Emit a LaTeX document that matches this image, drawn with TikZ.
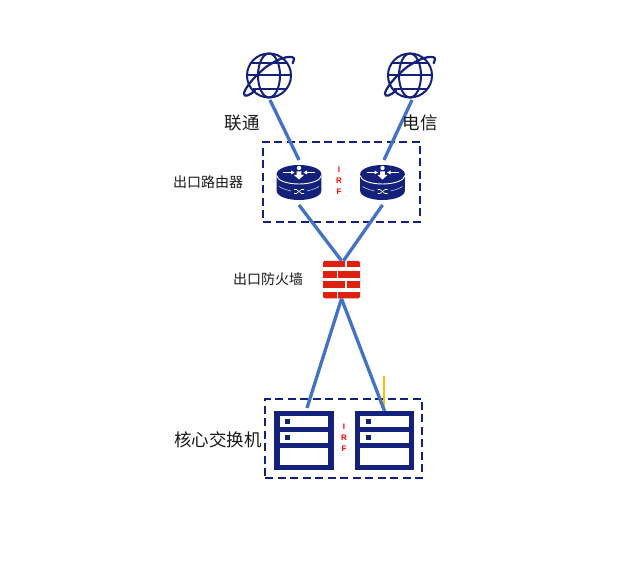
\documentclass[tikz,border=0pt]{standalone}
\usepackage{fontspec}
\setmainfont{Liberation Sans}
\newfontfamily\cjk{Noto Sans CJK SC}
\definecolor{navy}{HTML}{14217A}
\definecolor{linkblue}{HTML}{4472C4}
\definecolor{fwred}{HTML}{DD2010}
\definecolor{linkyellow}{HTML}{F5C000}
\newcommand{\globeicon}[1]{%
\begin{scope}[shift={#1},navy,line width=2pt]
\draw (0,0) circle (22);
\draw (0,0) ellipse (11 and 22);
\draw (-18,-12.5) -- (18,-12.5);
\draw (-22,0) -- (22,0);
\draw (-16.5,14) -- (16.5,14);
\draw[line width=2.2pt,line cap=round] (-14,15) .. controls (-19,20) and (-25,22) .. (-25,18.3) .. controls (-25,14) and (-16,3) .. (-10.7,-1.7) .. controls (-6,-6) and (-3,-9) .. (1,-11) .. controls (7,-15) and (13,-17.5) .. (17.7,-18.3) .. controls (22,-19) and (25.5,-18.5) .. (25,-16) .. controls (25,-14.5) and (24.5,-13.5) .. (23.7,-12.3);
\end{scope}}
\newcommand{\routericon}[1]{%
\begin{scope}[shift={#1}]
\fill[navy] (-22.3,-8.5) -- (-22.3,8.5) arc[start angle=180,end angle=0,x radius=22.3,y radius=9] -- (22.3,-8.5) arc[start angle=0,end angle=-180,x radius=22.3,y radius=9] -- cycle;
\draw[white,line width=0.9pt] (-22.3,-7) arc[start angle=180,end angle=0,x radius=22.3,y radius=8.5];
% top arrows
\fill[white] (0,-14.5) circle (2.2);
\fill[white] (-2.4,-11) -- (2.4,-11) -- (2.4,-7.5) -- (5,-7.5) -- (0,-3) -- (-5,-7.5) -- (-2.4,-7.5) -- cycle;
\draw[white,line width=0.6pt] (-16,-10) -- (-7,-10);
\fill[white] (-4.5,-10) -- (-8,-12) -- (-8,-8) -- cycle;
\draw[white,line width=0.6pt] (16,-10) -- (7,-10);
\fill[white] (4.5,-10) -- (8,-12) -- (8,-8) -- cycle;
% side lines and crossing
\draw[white,line width=0.4pt] (-20,4) .. controls (-16,6.5) and (-12,7.5) .. (-8,8.5);
\draw[white,line width=0.4pt] (20,4) .. controls (16,6.5) and (12,7.5) .. (8,8.5);
\draw[white,line width=0.6pt] (-5,7) -- (-2.5,7) -- (2.5,11) -- (5,11);
\draw[white,line width=0.6pt] (-5,11) -- (-2.5,11) -- (2.5,7) -- (5,7);
\end{scope}}
\newcommand{\switchicon}[1]{%
\begin{scope}[shift={#1}]
\fill[navy] (-29.8,-29.5) rectangle (29.8,29.5);
\fill[white] (-24.4,-24.3) rectangle (24.2,-13.4);
\fill[white] (-24.4,-8) rectangle (24.2,2.6);
\fill[white] (-24.4,8) rectangle (24.2,24.3);
\fill[navy] (-19,-21.5) rectangle (-13.7,-16.2);
\fill[navy] (-19,-5.5) rectangle (-13.7,-0.2);
\end{scope}}
\newcommand{\firewallicon}[1]{%
\begin{scope}[shift={#1}]
\fill[fwred,rounded corners=1.5pt] (-18.5,-18.7) rectangle (18.5,18.7);
\fill[white] (-18.6,-12.2) rectangle (18.6,-9);
\fill[white] (-18.6,-1.8) rectangle (18.6,1.8);
\fill[white] (-18.6,8.8) rectangle (18.6,12.2);
\fill[white] (3.8,-18.8) rectangle (5.4,-12);
\fill[white] (-4.8,-9.2) rectangle (-3.2,-1.6);
\fill[white] (3.8,1.6) rectangle (5.4,9);
\fill[white] (-4.8,12) rectangle (-3.2,18.8);
\end{scope}}
\tikzset{
  iconbox/.style={inner sep=0pt,outer sep=0pt,minimum width=#1},
  link/.style={draw=linkblue,line width=3.3pt},
  irfbox/.style={draw=navy,line width=2pt,dash pattern=on 8pt off 4.5pt},
  irflabel/.style={text=red,font=\bfseries\fontsize{8}{10.8}\selectfont,align=center,inner sep=0pt},
  biglabel/.style={font=\cjk\fontsize{17.5}{20}\selectfont,inner sep=0pt,text=black!90},
  smalllabel/.style={font=\cjk\fontsize{14}{16}\selectfont,inner sep=0pt,text=black!90}
}
\begin{document}
\begin{tikzpicture}[x=1pt,y=-1pt]
\useasboundingbox (0,0) rectangle (633,585);
\fill[white] (0,0) rectangle (633,585);
% dashed groups
\node[irfbox,inner sep=0pt,minimum width=157pt,minimum height=80pt] (grp1) at (341.5,182) {};
\node[irfbox,inner sep=0pt,minimum width=157pt,minimum height=79pt] (grp2) at (343.5,438.5) {};
% icons
\globeicon{(269,75.5)}
\globeicon{(410,75.5)}
\routericon{(299,182.5)}
\routericon{(382.5,182.5)}
\firewallicon{(341.5,279.7)}
\switchicon{(304,440.5)}
\switchicon{(384.5,440.5)}
% anchor nodes
\node[iconbox=45pt,minimum height=50pt] (g1) at (269,75) {};
\node[iconbox=45pt,minimum height=50pt] (g2) at (410,75) {};
\node[iconbox=45pt,minimum height=45pt] (r1) at (299,182.5) {};
\node[iconbox=45pt,minimum height=45pt] (r2) at (382.5,182.5) {};
\node[iconbox=37pt,minimum height=38pt] (fw) at (341.5,279.7) {};
\node[iconbox=60pt,minimum height=65pt] (s1) at (304,440.5) {};
\node[iconbox=60pt,minimum height=59pt] (s2) at (384.5,440.5) {};
\coordinate (ytop) at (384,376);
% links
\draw[link] ([xshift=1pt]g1.south) -- (r1.north);
\draw[link] ([xshift=2pt]g2.south) -- ([xshift=1.5pt]r2.north);
\draw[link] (r1.south) -- (fw.north);
\draw[link] (r2.south) -- ([xshift=2pt]fw.north);
\draw[link] (fw.south) -- ([xshift=3pt]s1.north);
\draw[draw=linkyellow,line width=2.2pt] (ytop) -- (s2.north -| ytop);
\draw[link] (fw.south) -- (s2.north);
% labels
\node[biglabel] (l1) at (242,123) {联通};
\node[biglabel] (l2) at (420,123) {电信};
\node[smalllabel] (l3) at (208,182) {出口路由器};
\node[smalllabel] (l4) at (268,279) {出口防火墙};
\node[biglabel] (l5) at (218,440) {核心交换机};
\node[irflabel] (i1) at (339,181) {I\\R\\F};
\node[irflabel] (i2) at (344,438) {I\\R\\F};
\end{tikzpicture}
\end{document}
